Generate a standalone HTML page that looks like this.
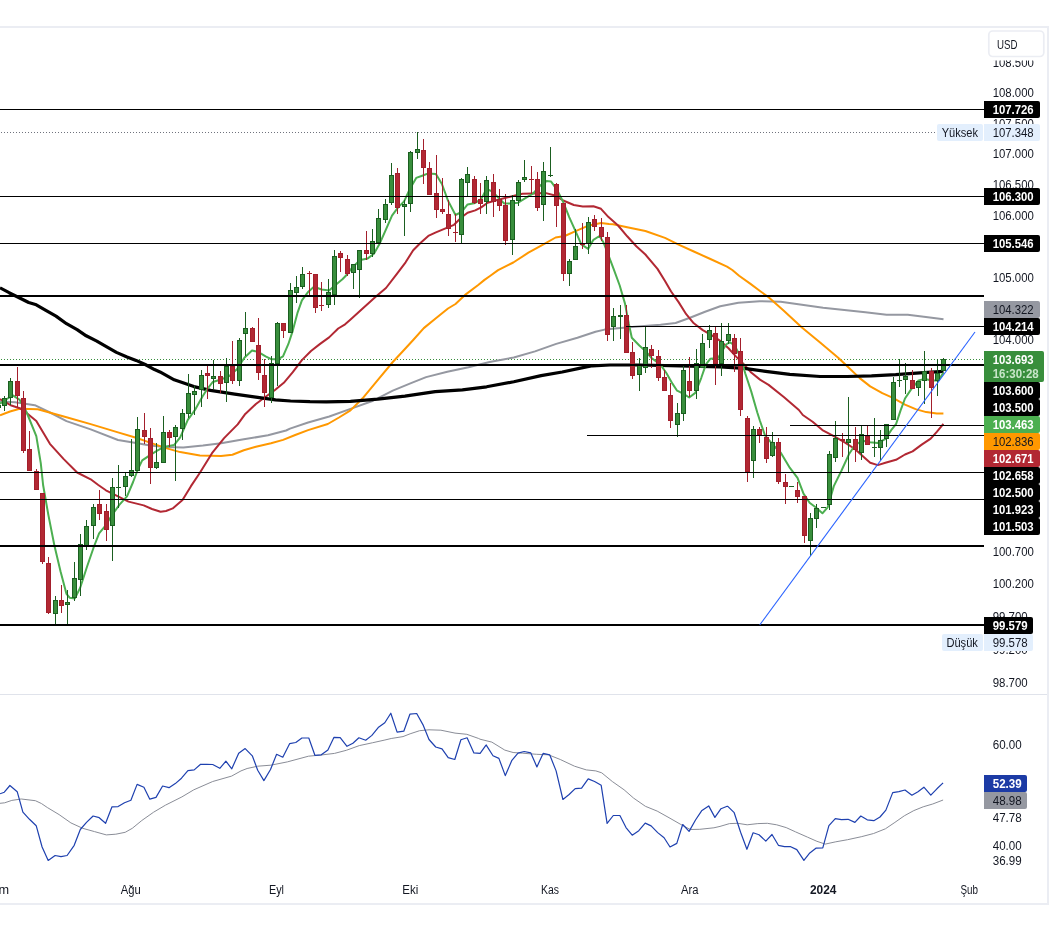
<!DOCTYPE html>
<html lang="tr"><head><meta charset="utf-8"><title>DXY</title>
<style>html,body{margin:0;padding:0;background:#fff}body{width:1058px;height:939px;overflow:hidden}</style>
</head><body>
<svg width="1058" height="939" viewBox="0 0 1058 939" style="display:block;will-change:transform" font-family='"Liberation Sans", "DejaVu Sans", sans-serif'>
<rect width="1058" height="939" fill="#fff"/>
<defs><clipPath id="cm"><rect x="0" y="28" width="984" height="666"/></clipPath><clipPath id="cr"><rect x="0" y="695" width="984" height="180"/></clipPath></defs>
<g shape-rendering="crispEdges">
<line x1="1" y1="132.5" x2="936" y2="132.5" stroke="#6f727d" stroke-width="1" stroke-dasharray="1 2"/>
<line x1="1" y1="359.5" x2="984" y2="359.5" stroke="#388e3c" stroke-width="1" stroke-dasharray="1 2"/>
</g>
<g clip-path="url(#cm)">
<polyline points="0.0,401.4 15.1,402.2 34.8,405.2 50.0,412.5 66.5,421.1 90.7,429.4 118.0,440.0 136.1,443.0 150.0,445.6 165.1,447.1 183.3,447.6 202.9,445.6 221.1,443.3 243.8,439.3 268.0,435.3 286.1,430.5 290.0,428.6 308.1,422.5 329.3,416.5 350.5,408.9 371.7,401.3 392.8,390.7 411.0,383.2 426.1,377.1 447.3,371.7 468.5,367.2 489.6,362.0 513.8,357.5 535.0,351.4 556.2,343.9 577.4,337.8 595.5,331.8 604.6,329.6 615.1,328.6 637.8,326.6 660.5,324.8 675.6,323.0 690.0,317.8 705.1,311.7 720.2,306.3 738.4,302.7 759.6,301.2 780.7,301.8 801.9,304.8 823.1,307.8 844.3,309.9 865.4,312.3 886.6,314.8 907.8,314.8 925.9,316.9 943.5,319.3" fill="none" stroke="#9598a1" stroke-width="2" stroke-linejoin="round" stroke-linecap="butt" />
<polyline points="0.0,415.3 10.0,411.5 19.7,408.7 37.8,409.3 66.5,417.3 90.7,424.1 118.0,432.4 136.1,437.7 150.0,442.6 165.1,447.9 180.2,452.1 199.9,455.4 221.1,455.9 232.4,454.7 243.8,450.2 255.9,446.8 271.0,443.3 283.1,439.9 295.2,435.0 308.1,430.1 327.8,424.0 339.0,417.5 350.5,410.4 362.6,398.3 377.7,380.2 392.8,362.0 402.6,351.5 413.2,340.0 423.8,328.1 435.9,318.3 448.0,308.5 455.5,304.0 466.1,294.1 478.2,285.0 484.5,279.9 490.0,276.0 498.1,270.1 513.3,262.5 528.4,252.7 543.5,244.3 555.6,237.5 564.7,236.0 576.8,230.7 588.9,225.4 601.0,222.9 609.0,224.0 613.1,224.2 627.2,227.3 645.4,231.0 665.0,237.9 678.6,244.7 693.8,251.5 710.4,259.0 727.0,266.6 732.3,270.0 739.1,275.7 750.5,283.9 760.0,291.0 768.6,297.2 783.8,310.8 801.9,327.5 820.1,342.6 838.2,357.7 849.1,368.0 859.7,378.1 870.2,386.4 882.3,393.2 892.9,397.8 905.0,404.6 915.6,409.1 926.2,412.1 936.8,413.6 943.4,413.6" fill="none" stroke="#ff9800" stroke-width="2" stroke-linejoin="round" stroke-linecap="butt" />
<polyline points="0.0,399.1 10.6,405.2 19.7,408.2 26.0,412.5 36.3,421.1 49.9,443.8 63.5,458.9 77.1,472.5 90.7,479.3 98.3,485.0 105.9,490.3 118.0,496.3 128.5,501.6 143.7,505.4 152.0,509.0 160.6,511.8 166.0,511.0 172.7,508.4 182.5,500.1 190.8,486.4 199.9,472.8 212.0,453.2 224.1,438.1 237.7,424.4 245.3,413.9 255.9,404.0 264.9,397.2 274.7,390.3 283.8,382.8 292.8,372.2 301.9,360.1 311.0,351.0 320.1,343.9 329.1,337.4 338.2,328.5 345.1,324.3 350.0,320.0 360.2,310.7 375.4,297.1 386.0,288.0 396.5,274.4 405.6,262.3 413.2,250.2 420.7,242.7 428.3,235.9 435.9,232.4 444.9,228.6 454.0,224.8 461.6,217.3 467.6,212.7 475.2,210.4 481.2,207.4 487.6,202.8 498.1,199.7 510.2,196.7 522.3,193.7 532.9,193.4 545.0,192.9 554.1,195.2 563.2,200.5 573.8,205.0 582.8,206.5 593.4,206.2 601.0,208.8 608.5,217.1 618.1,225.5 627.2,236.3 636.3,246.2 645.4,254.5 657.5,268.9 665.0,281.0 671.1,291.5 678.6,302.1 686.2,314.2 693.8,323.3 702.8,330.1 711.9,335.4 721.0,341.4 728.5,348.3 736.1,356.6 743.7,364.1 751.2,372.5 760.0,379.6 768.6,384.9 783.8,397.0 798.9,410.0 802.8,415.0 812.6,421.8 822.4,430.1 833.8,436.2 844.3,442.2 854.9,449.0 864.0,457.3 870.2,462.8 877.8,465.1 885.4,462.8 896.0,459.8 905.0,454.5 912.6,451.4 921.7,444.6 930.7,438.6 936.8,431.8 943.4,423.9" fill="none" stroke="#b22833" stroke-width="2" stroke-linejoin="round" stroke-linecap="butt" />
<polyline points="0.0,287.8 9.1,292.7 19.7,298.0 28.7,302.5 36.3,304.8 45.4,310.1 56.0,316.1 66.5,323.7 77.1,329.7 86.2,335.8 96.8,341.1 105.9,346.4 116.4,352.4 127.0,357.0 136.1,360.4 145.2,364.5 154.5,369.6 160.0,371.9 174.2,379.8 193.9,386.6 210.5,390.4 234.7,394.2 255.9,397.2 275.5,399.8 290.6,401.0 310.0,401.7 326.3,401.9 350.5,401.3 377.7,399.2 404.9,396.2 435.2,391.7 462.4,389.8 486.6,386.8 513.8,381.7 541.1,375.6 562.2,372.0 580.4,368.1 592.5,365.8 610.0,365.0 640.0,365.0 690.0,366.2 720.2,366.8 744.4,368.3 765.6,371.3 789.8,374.4 820.1,376.5 847.3,376.5 871.5,375.9 895.7,374.7 919.9,372.8 943.5,371.3" fill="none" stroke="#000" stroke-width="3.2" stroke-linejoin="round" stroke-linecap="butt" />
<polyline points="0.0,403.7 6.0,399.5 12.9,395.4 19.7,399.9 26.5,412.0 36.3,436.2 40.8,463.4 43.1,485.0 48.4,515.2 54.4,545.5 60.5,571.2 66.5,593.9 69.6,597.7 74.9,598.4 80.2,587.8 87.0,566.7 93.8,547.0 99.1,533.4 105.9,525.1 111.9,515.2 119.5,504.7 127.0,496.3 133.1,482.0 138.0,469.0 142.2,460.4 151.2,454.3 156.8,450.9 163.6,447.1 174.2,444.9 180.2,437.3 187.8,419.9 195.4,409.3 202.5,396.5 207.4,388.8 212.7,382.0 220.2,379.8 229.3,376.0 236.9,369.2 244.4,357.8 252.0,350.6 258.1,351.8 265.6,356.3 271.7,359.3 277.7,359.3 283.0,356.3 288.3,344.2 292.8,330.6 297.4,313.2 301.9,300.4 308.0,292.1 314.0,286.8 321.6,289.5 329.1,290.5 335.2,285.2 342.7,279.0 347.0,274.5 352.7,266.9 360.2,260.1 367.8,258.4 373.9,253.8 379.9,243.2 386.0,229.3 392.0,215.7 398.1,207.4 404.1,201.4 410.1,188.5 416.2,177.9 422.2,175.7 428.3,173.4 435.9,174.1 441.9,184.0 448.0,200.6 455.5,215.0 461.6,212.0 467.6,204.4 475.2,202.9 481.2,199.1 486.5,189.0 492.1,191.4 499.7,199.0 504.2,203.5 510.2,203.5 517.8,202.8 525.4,198.2 532.9,193.7 540.5,185.4 546.5,181.1 551.1,181.6 557.1,189.9 563.2,202.0 569.2,217.1 575.3,230.7 581.3,244.3 588.1,248.9 593.4,239.8 599.5,236.0 603.5,242.5 607.6,253.0 613.6,268.9 619.7,285.5 625.0,303.6 628.7,323.3 631.8,337.7 639.3,345.5 645.4,351.0 651.5,358.0 660.5,364.6 666.5,373.3 672.6,383.9 677.1,390.7 683.2,393.7 689.2,397.5 695.3,392.9 701.3,377.8 705.9,364.4 710.4,358.7 718.0,358.1 722.5,350.5 726.0,344.5 730.0,342.2 734.6,345.5 740.6,357.0 745.2,373.3 751.2,391.4 757.3,412.5 760.0,421.0 765.0,435.4 773.3,445.2 780.8,452.8 789.9,467.9 797.5,477.8 803.5,493.6 809.6,502.7 815.6,507.3 822.4,513.3 827.7,507.3 833.8,486.1 841.3,471.0 848.9,454.3 854.9,445.2 862.5,440.7 870.1,442.2 877.6,443.0 885.2,439.2 891.2,430.1 896.0,424.2 900.5,410.6 905.0,398.5 911.1,389.4 918.6,380.4 924.7,378.9 932.2,380.4 938.3,380.4 943.4,372.8" fill="none" stroke="#4caf50" stroke-width="2" stroke-linejoin="round" stroke-linecap="butt" />
</g>
<g shape-rendering="crispEdges" clip-path="url(#cm)">
<rect x="-2" y="403" width="1" height="7" fill="#1b5e20"/>
<rect x="-4" y="405" width="5" height="3" fill="#1b5e20"/>
<rect x="-3" y="406" width="3" height="1" fill="#388e3c"/>
<rect x="4" y="396" width="1" height="15" fill="#1b5e20"/>
<rect x="2" y="398" width="5" height="8" fill="#1b5e20"/>
<rect x="3" y="399" width="3" height="6" fill="#388e3c"/>
<rect x="10" y="378" width="1" height="27" fill="#1b5e20"/>
<rect x="8" y="381" width="5" height="17" fill="#1b5e20"/>
<rect x="9" y="382" width="3" height="15" fill="#388e3c"/>
<rect x="17" y="367" width="1" height="40" fill="#a31f2c"/>
<rect x="15" y="381" width="5" height="15" fill="#a31f2c"/>
<rect x="16" y="382" width="3" height="13" fill="#b22833"/>
<rect x="23" y="391" width="1" height="62" fill="#a31f2c"/>
<rect x="21" y="398" width="5" height="53" fill="#a31f2c"/>
<rect x="22" y="399" width="3" height="51" fill="#b22833"/>
<rect x="29" y="431" width="1" height="40" fill="#a31f2c"/>
<rect x="27" y="449" width="5" height="22" fill="#a31f2c"/>
<rect x="28" y="450" width="3" height="20" fill="#b22833"/>
<rect x="36" y="469" width="1" height="21" fill="#a31f2c"/>
<rect x="34" y="471" width="5" height="19" fill="#a31f2c"/>
<rect x="35" y="472" width="3" height="17" fill="#b22833"/>
<rect x="42" y="493" width="1" height="71" fill="#a31f2c"/>
<rect x="40" y="493" width="5" height="69" fill="#a31f2c"/>
<rect x="41" y="494" width="3" height="67" fill="#b22833"/>
<rect x="48" y="557" width="1" height="57" fill="#a31f2c"/>
<rect x="46" y="563" width="5" height="50" fill="#a31f2c"/>
<rect x="47" y="564" width="3" height="48" fill="#b22833"/>
<rect x="55" y="596" width="1" height="28" fill="#1b5e20"/>
<rect x="53" y="600" width="5" height="14" fill="#1b5e20"/>
<rect x="54" y="601" width="3" height="12" fill="#388e3c"/>
<rect x="61" y="585" width="1" height="28" fill="#a31f2c"/>
<rect x="59" y="600" width="5" height="6" fill="#a31f2c"/>
<rect x="60" y="601" width="3" height="4" fill="#b22833"/>
<rect x="67" y="590" width="1" height="34" fill="#1b5e20"/>
<rect x="65" y="602" width="5" height="3" fill="#1b5e20"/>
<rect x="66" y="603" width="3" height="1" fill="#388e3c"/>
<rect x="74" y="562" width="1" height="39" fill="#1b5e20"/>
<rect x="72" y="578" width="5" height="20" fill="#1b5e20"/>
<rect x="73" y="579" width="3" height="18" fill="#388e3c"/>
<rect x="80" y="534" width="1" height="62" fill="#1b5e20"/>
<rect x="78" y="544" width="5" height="36" fill="#1b5e20"/>
<rect x="79" y="545" width="3" height="34" fill="#388e3c"/>
<rect x="86" y="520" width="1" height="30" fill="#1b5e20"/>
<rect x="84" y="526" width="5" height="20" fill="#1b5e20"/>
<rect x="85" y="527" width="3" height="18" fill="#388e3c"/>
<rect x="93" y="504" width="1" height="35" fill="#1b5e20"/>
<rect x="91" y="507" width="5" height="19" fill="#1b5e20"/>
<rect x="92" y="508" width="3" height="17" fill="#388e3c"/>
<rect x="99" y="490" width="1" height="30" fill="#a31f2c"/>
<rect x="97" y="504" width="5" height="10" fill="#a31f2c"/>
<rect x="98" y="505" width="3" height="8" fill="#b22833"/>
<rect x="106" y="504" width="1" height="37" fill="#a31f2c"/>
<rect x="104" y="511" width="5" height="19" fill="#a31f2c"/>
<rect x="105" y="512" width="3" height="17" fill="#b22833"/>
<rect x="112" y="478" width="1" height="83" fill="#1b5e20"/>
<rect x="110" y="487" width="5" height="39" fill="#1b5e20"/>
<rect x="111" y="488" width="3" height="37" fill="#388e3c"/>
<rect x="118" y="465" width="1" height="43" fill="#1b5e20"/>
<rect x="116" y="487" width="5" height="1" fill="#1b5e20"/>
<rect x="125" y="473" width="1" height="23" fill="#1b5e20"/>
<rect x="123" y="476" width="5" height="11" fill="#1b5e20"/>
<rect x="124" y="477" width="3" height="9" fill="#388e3c"/>
<rect x="131" y="439" width="1" height="38" fill="#1b5e20"/>
<rect x="129" y="470" width="5" height="6" fill="#1b5e20"/>
<rect x="130" y="471" width="3" height="4" fill="#388e3c"/>
<rect x="137" y="417" width="1" height="54" fill="#1b5e20"/>
<rect x="135" y="429" width="5" height="42" fill="#1b5e20"/>
<rect x="136" y="430" width="3" height="40" fill="#388e3c"/>
<rect x="144" y="413" width="1" height="31" fill="#a31f2c"/>
<rect x="142" y="430" width="5" height="7" fill="#a31f2c"/>
<rect x="143" y="431" width="3" height="5" fill="#b22833"/>
<rect x="150" y="428" width="1" height="56" fill="#a31f2c"/>
<rect x="148" y="438" width="5" height="30" fill="#a31f2c"/>
<rect x="149" y="439" width="3" height="28" fill="#b22833"/>
<rect x="156" y="443" width="1" height="26" fill="#1b5e20"/>
<rect x="154" y="462" width="5" height="6" fill="#1b5e20"/>
<rect x="155" y="463" width="3" height="4" fill="#388e3c"/>
<rect x="163" y="416" width="1" height="47" fill="#1b5e20"/>
<rect x="161" y="432" width="5" height="31" fill="#1b5e20"/>
<rect x="162" y="433" width="3" height="29" fill="#388e3c"/>
<rect x="169" y="430" width="1" height="17" fill="#a31f2c"/>
<rect x="167" y="432" width="5" height="6" fill="#a31f2c"/>
<rect x="168" y="433" width="3" height="4" fill="#b22833"/>
<rect x="175" y="425" width="1" height="56" fill="#1b5e20"/>
<rect x="173" y="427" width="5" height="10" fill="#1b5e20"/>
<rect x="174" y="428" width="3" height="8" fill="#388e3c"/>
<rect x="182" y="409" width="1" height="31" fill="#1b5e20"/>
<rect x="180" y="413" width="5" height="16" fill="#1b5e20"/>
<rect x="181" y="414" width="3" height="14" fill="#388e3c"/>
<rect x="188" y="374" width="1" height="44" fill="#1b5e20"/>
<rect x="186" y="393" width="5" height="21" fill="#1b5e20"/>
<rect x="187" y="394" width="3" height="19" fill="#388e3c"/>
<rect x="194" y="386" width="1" height="29" fill="#1b5e20"/>
<rect x="192" y="391" width="5" height="4" fill="#1b5e20"/>
<rect x="193" y="392" width="3" height="2" fill="#388e3c"/>
<rect x="201" y="370" width="1" height="37" fill="#1b5e20"/>
<rect x="199" y="375" width="5" height="15" fill="#1b5e20"/>
<rect x="200" y="376" width="3" height="13" fill="#388e3c"/>
<rect x="207" y="366" width="1" height="33" fill="#a31f2c"/>
<rect x="205" y="373" width="5" height="3" fill="#a31f2c"/>
<rect x="206" y="374" width="3" height="1" fill="#b22833"/>
<rect x="213" y="360" width="1" height="29" fill="#1b5e20"/>
<rect x="211" y="376" width="5" height="3" fill="#1b5e20"/>
<rect x="212" y="377" width="3" height="1" fill="#388e3c"/>
<rect x="220" y="371" width="1" height="22" fill="#a31f2c"/>
<rect x="218" y="376" width="5" height="8" fill="#a31f2c"/>
<rect x="219" y="377" width="3" height="6" fill="#b22833"/>
<rect x="226" y="358" width="1" height="44" fill="#1b5e20"/>
<rect x="224" y="366" width="5" height="17" fill="#1b5e20"/>
<rect x="225" y="367" width="3" height="15" fill="#388e3c"/>
<rect x="232" y="341" width="1" height="43" fill="#a31f2c"/>
<rect x="230" y="366" width="5" height="15" fill="#a31f2c"/>
<rect x="231" y="367" width="3" height="13" fill="#b22833"/>
<rect x="239" y="338" width="1" height="48" fill="#1b5e20"/>
<rect x="237" y="340" width="5" height="41" fill="#1b5e20"/>
<rect x="238" y="341" width="3" height="39" fill="#388e3c"/>
<rect x="245" y="312" width="1" height="44" fill="#1b5e20"/>
<rect x="243" y="328" width="5" height="6" fill="#1b5e20"/>
<rect x="244" y="329" width="3" height="4" fill="#388e3c"/>
<rect x="252" y="327" width="1" height="15" fill="#a31f2c"/>
<rect x="250" y="328" width="5" height="14" fill="#a31f2c"/>
<rect x="251" y="329" width="3" height="12" fill="#b22833"/>
<rect x="258" y="318" width="1" height="62" fill="#a31f2c"/>
<rect x="256" y="345" width="5" height="28" fill="#a31f2c"/>
<rect x="257" y="346" width="3" height="26" fill="#b22833"/>
<rect x="264" y="359" width="1" height="48" fill="#a31f2c"/>
<rect x="262" y="375" width="5" height="18" fill="#a31f2c"/>
<rect x="263" y="376" width="3" height="16" fill="#b22833"/>
<rect x="271" y="356" width="1" height="47" fill="#1b5e20"/>
<rect x="269" y="363" width="5" height="35" fill="#1b5e20"/>
<rect x="270" y="364" width="3" height="33" fill="#388e3c"/>
<rect x="277" y="322" width="1" height="64" fill="#1b5e20"/>
<rect x="275" y="323" width="5" height="41" fill="#1b5e20"/>
<rect x="276" y="324" width="3" height="39" fill="#388e3c"/>
<rect x="283" y="323" width="1" height="15" fill="#a31f2c"/>
<rect x="281" y="323" width="5" height="8" fill="#a31f2c"/>
<rect x="282" y="324" width="3" height="6" fill="#b22833"/>
<rect x="290" y="283" width="1" height="50" fill="#1b5e20"/>
<rect x="288" y="290" width="5" height="43" fill="#1b5e20"/>
<rect x="289" y="291" width="3" height="41" fill="#388e3c"/>
<rect x="296" y="276" width="1" height="27" fill="#1b5e20"/>
<rect x="294" y="287" width="5" height="6" fill="#1b5e20"/>
<rect x="295" y="288" width="3" height="4" fill="#388e3c"/>
<rect x="302" y="267" width="1" height="22" fill="#1b5e20"/>
<rect x="300" y="274" width="5" height="13" fill="#1b5e20"/>
<rect x="301" y="275" width="3" height="11" fill="#388e3c"/>
<rect x="309" y="271" width="1" height="26" fill="#a31f2c"/>
<rect x="307" y="273" width="5" height="1" fill="#a31f2c"/>
<rect x="315" y="274" width="1" height="39" fill="#a31f2c"/>
<rect x="313" y="274" width="5" height="34" fill="#a31f2c"/>
<rect x="314" y="275" width="3" height="32" fill="#b22833"/>
<rect x="321" y="282" width="1" height="29" fill="#a31f2c"/>
<rect x="319" y="305" width="5" height="1" fill="#a31f2c"/>
<rect x="328" y="279" width="1" height="29" fill="#1b5e20"/>
<rect x="326" y="292" width="5" height="13" fill="#1b5e20"/>
<rect x="327" y="293" width="3" height="11" fill="#388e3c"/>
<rect x="334" y="250" width="1" height="55" fill="#1b5e20"/>
<rect x="332" y="256" width="5" height="39" fill="#1b5e20"/>
<rect x="333" y="257" width="3" height="37" fill="#388e3c"/>
<rect x="340" y="251" width="1" height="21" fill="#a31f2c"/>
<rect x="338" y="253" width="5" height="5" fill="#a31f2c"/>
<rect x="339" y="254" width="3" height="3" fill="#b22833"/>
<rect x="347" y="255" width="1" height="21" fill="#a31f2c"/>
<rect x="345" y="259" width="5" height="15" fill="#a31f2c"/>
<rect x="346" y="260" width="3" height="13" fill="#b22833"/>
<rect x="353" y="264" width="1" height="25" fill="#1b5e20"/>
<rect x="351" y="264" width="5" height="9" fill="#1b5e20"/>
<rect x="352" y="265" width="3" height="7" fill="#388e3c"/>
<rect x="359" y="250" width="1" height="48" fill="#1b5e20"/>
<rect x="357" y="250" width="5" height="20" fill="#1b5e20"/>
<rect x="358" y="251" width="3" height="18" fill="#388e3c"/>
<rect x="366" y="231" width="1" height="29" fill="#a31f2c"/>
<rect x="364" y="250" width="5" height="4" fill="#a31f2c"/>
<rect x="365" y="251" width="3" height="2" fill="#b22833"/>
<rect x="372" y="229" width="1" height="28" fill="#1b5e20"/>
<rect x="370" y="241" width="5" height="13" fill="#1b5e20"/>
<rect x="371" y="242" width="3" height="11" fill="#388e3c"/>
<rect x="378" y="209" width="1" height="34" fill="#1b5e20"/>
<rect x="376" y="218" width="5" height="25" fill="#1b5e20"/>
<rect x="377" y="219" width="3" height="23" fill="#388e3c"/>
<rect x="385" y="199" width="1" height="24" fill="#1b5e20"/>
<rect x="383" y="204" width="5" height="16" fill="#1b5e20"/>
<rect x="384" y="205" width="3" height="14" fill="#388e3c"/>
<rect x="391" y="163" width="1" height="42" fill="#1b5e20"/>
<rect x="389" y="175" width="5" height="28" fill="#1b5e20"/>
<rect x="390" y="176" width="3" height="26" fill="#388e3c"/>
<rect x="397" y="168" width="1" height="46" fill="#a31f2c"/>
<rect x="395" y="173" width="5" height="35" fill="#a31f2c"/>
<rect x="396" y="174" width="3" height="33" fill="#b22833"/>
<rect x="404" y="200" width="1" height="36" fill="#1b5e20"/>
<rect x="402" y="204" width="5" height="3" fill="#1b5e20"/>
<rect x="403" y="205" width="3" height="1" fill="#388e3c"/>
<rect x="410" y="151" width="1" height="61" fill="#1b5e20"/>
<rect x="408" y="152" width="5" height="52" fill="#1b5e20"/>
<rect x="409" y="153" width="3" height="50" fill="#388e3c"/>
<rect x="417" y="132" width="1" height="27" fill="#1b5e20"/>
<rect x="415" y="149" width="5" height="4" fill="#1b5e20"/>
<rect x="416" y="150" width="3" height="2" fill="#388e3c"/>
<rect x="423" y="139" width="1" height="45" fill="#a31f2c"/>
<rect x="421" y="150" width="5" height="18" fill="#a31f2c"/>
<rect x="422" y="151" width="3" height="16" fill="#b22833"/>
<rect x="429" y="162" width="1" height="33" fill="#a31f2c"/>
<rect x="427" y="168" width="5" height="27" fill="#a31f2c"/>
<rect x="428" y="169" width="3" height="25" fill="#b22833"/>
<rect x="436" y="155" width="1" height="63" fill="#a31f2c"/>
<rect x="434" y="193" width="5" height="17" fill="#a31f2c"/>
<rect x="435" y="194" width="3" height="15" fill="#b22833"/>
<rect x="442" y="178" width="1" height="36" fill="#a31f2c"/>
<rect x="440" y="209" width="5" height="3" fill="#a31f2c"/>
<rect x="441" y="210" width="3" height="1" fill="#b22833"/>
<rect x="448" y="200" width="1" height="36" fill="#a31f2c"/>
<rect x="446" y="214" width="5" height="15" fill="#a31f2c"/>
<rect x="447" y="215" width="3" height="13" fill="#b22833"/>
<rect x="455" y="214" width="1" height="28" fill="#a31f2c"/>
<rect x="453" y="232" width="5" height="1" fill="#a31f2c"/>
<rect x="461" y="178" width="1" height="65" fill="#1b5e20"/>
<rect x="459" y="179" width="5" height="56" fill="#1b5e20"/>
<rect x="460" y="180" width="3" height="54" fill="#388e3c"/>
<rect x="467" y="167" width="1" height="29" fill="#1b5e20"/>
<rect x="465" y="174" width="5" height="9" fill="#1b5e20"/>
<rect x="466" y="175" width="3" height="7" fill="#388e3c"/>
<rect x="474" y="176" width="1" height="28" fill="#a31f2c"/>
<rect x="472" y="179" width="5" height="24" fill="#a31f2c"/>
<rect x="473" y="180" width="3" height="22" fill="#b22833"/>
<rect x="480" y="183" width="1" height="31" fill="#a31f2c"/>
<rect x="478" y="199" width="5" height="5" fill="#a31f2c"/>
<rect x="479" y="200" width="3" height="3" fill="#b22833"/>
<rect x="486" y="176" width="1" height="38" fill="#1b5e20"/>
<rect x="484" y="180" width="5" height="22" fill="#1b5e20"/>
<rect x="485" y="181" width="3" height="20" fill="#388e3c"/>
<rect x="493" y="174" width="1" height="43" fill="#a31f2c"/>
<rect x="491" y="182" width="5" height="20" fill="#a31f2c"/>
<rect x="492" y="183" width="3" height="18" fill="#b22833"/>
<rect x="499" y="189" width="1" height="22" fill="#a31f2c"/>
<rect x="497" y="199" width="5" height="7" fill="#a31f2c"/>
<rect x="498" y="200" width="3" height="5" fill="#b22833"/>
<rect x="505" y="194" width="1" height="51" fill="#a31f2c"/>
<rect x="503" y="205" width="5" height="36" fill="#a31f2c"/>
<rect x="504" y="206" width="3" height="34" fill="#b22833"/>
<rect x="512" y="195" width="1" height="60" fill="#1b5e20"/>
<rect x="510" y="200" width="5" height="40" fill="#1b5e20"/>
<rect x="511" y="201" width="3" height="38" fill="#388e3c"/>
<rect x="518" y="180" width="1" height="26" fill="#1b5e20"/>
<rect x="516" y="182" width="5" height="19" fill="#1b5e20"/>
<rect x="517" y="183" width="3" height="17" fill="#388e3c"/>
<rect x="524" y="160" width="1" height="22" fill="#1b5e20"/>
<rect x="522" y="177" width="5" height="3" fill="#1b5e20"/>
<rect x="523" y="178" width="3" height="1" fill="#388e3c"/>
<rect x="531" y="166" width="1" height="28" fill="#a31f2c"/>
<rect x="529" y="179" width="5" height="1" fill="#a31f2c"/>
<rect x="537" y="172" width="1" height="39" fill="#a31f2c"/>
<rect x="535" y="179" width="5" height="29" fill="#a31f2c"/>
<rect x="536" y="180" width="3" height="27" fill="#b22833"/>
<rect x="543" y="162" width="1" height="59" fill="#1b5e20"/>
<rect x="541" y="171" width="5" height="34" fill="#1b5e20"/>
<rect x="542" y="172" width="3" height="32" fill="#388e3c"/>
<rect x="550" y="147" width="1" height="30" fill="#1b5e20"/>
<rect x="548" y="175" width="5" height="1" fill="#1b5e20"/>
<rect x="556" y="183" width="1" height="44" fill="#a31f2c"/>
<rect x="554" y="184" width="5" height="22" fill="#a31f2c"/>
<rect x="555" y="185" width="3" height="20" fill="#b22833"/>
<rect x="563" y="203" width="1" height="78" fill="#a31f2c"/>
<rect x="561" y="203" width="5" height="71" fill="#a31f2c"/>
<rect x="562" y="204" width="3" height="69" fill="#b22833"/>
<rect x="569" y="259" width="1" height="27" fill="#1b5e20"/>
<rect x="567" y="261" width="5" height="13" fill="#1b5e20"/>
<rect x="568" y="262" width="3" height="11" fill="#388e3c"/>
<rect x="575" y="229" width="1" height="31" fill="#1b5e20"/>
<rect x="573" y="246" width="5" height="14" fill="#1b5e20"/>
<rect x="574" y="247" width="3" height="12" fill="#388e3c"/>
<rect x="582" y="223" width="1" height="26" fill="#a31f2c"/>
<rect x="580" y="244" width="5" height="1" fill="#a31f2c"/>
<rect x="588" y="217" width="1" height="37" fill="#1b5e20"/>
<rect x="586" y="222" width="5" height="22" fill="#1b5e20"/>
<rect x="587" y="223" width="3" height="20" fill="#388e3c"/>
<rect x="594" y="215" width="1" height="16" fill="#a31f2c"/>
<rect x="592" y="219" width="5" height="8" fill="#a31f2c"/>
<rect x="593" y="220" width="3" height="6" fill="#b22833"/>
<rect x="601" y="218" width="1" height="23" fill="#a31f2c"/>
<rect x="599" y="227" width="5" height="10" fill="#a31f2c"/>
<rect x="600" y="228" width="3" height="8" fill="#b22833"/>
<rect x="607" y="232" width="1" height="109" fill="#a31f2c"/>
<rect x="605" y="237" width="5" height="98" fill="#a31f2c"/>
<rect x="606" y="238" width="3" height="96" fill="#b22833"/>
<rect x="613" y="308" width="1" height="33" fill="#1b5e20"/>
<rect x="611" y="316" width="5" height="11" fill="#1b5e20"/>
<rect x="612" y="317" width="3" height="9" fill="#388e3c"/>
<rect x="620" y="305" width="1" height="34" fill="#1b5e20"/>
<rect x="618" y="315" width="5" height="2" fill="#1b5e20"/>
<rect x="626" y="305" width="1" height="48" fill="#a31f2c"/>
<rect x="624" y="315" width="5" height="38" fill="#a31f2c"/>
<rect x="625" y="316" width="3" height="36" fill="#b22833"/>
<rect x="632" y="342" width="1" height="37" fill="#a31f2c"/>
<rect x="630" y="352" width="5" height="24" fill="#a31f2c"/>
<rect x="631" y="353" width="3" height="22" fill="#b22833"/>
<rect x="639" y="358" width="1" height="33" fill="#1b5e20"/>
<rect x="637" y="365" width="5" height="10" fill="#1b5e20"/>
<rect x="638" y="366" width="3" height="8" fill="#388e3c"/>
<rect x="645" y="327" width="1" height="46" fill="#1b5e20"/>
<rect x="643" y="347" width="5" height="21" fill="#1b5e20"/>
<rect x="644" y="348" width="3" height="19" fill="#388e3c"/>
<rect x="651" y="345" width="1" height="23" fill="#a31f2c"/>
<rect x="649" y="349" width="5" height="7" fill="#a31f2c"/>
<rect x="650" y="350" width="3" height="5" fill="#b22833"/>
<rect x="658" y="350" width="1" height="31" fill="#a31f2c"/>
<rect x="656" y="356" width="5" height="22" fill="#a31f2c"/>
<rect x="657" y="357" width="3" height="20" fill="#b22833"/>
<rect x="664" y="370" width="1" height="21" fill="#a31f2c"/>
<rect x="662" y="377" width="5" height="14" fill="#a31f2c"/>
<rect x="663" y="378" width="3" height="12" fill="#b22833"/>
<rect x="670" y="383" width="1" height="45" fill="#a31f2c"/>
<rect x="668" y="395" width="5" height="26" fill="#a31f2c"/>
<rect x="669" y="396" width="3" height="24" fill="#b22833"/>
<rect x="677" y="403" width="1" height="34" fill="#1b5e20"/>
<rect x="675" y="413" width="5" height="12" fill="#1b5e20"/>
<rect x="676" y="414" width="3" height="10" fill="#388e3c"/>
<rect x="683" y="366" width="1" height="55" fill="#1b5e20"/>
<rect x="681" y="370" width="5" height="44" fill="#1b5e20"/>
<rect x="682" y="371" width="3" height="42" fill="#388e3c"/>
<rect x="689" y="357" width="1" height="40" fill="#a31f2c"/>
<rect x="687" y="381" width="5" height="10" fill="#a31f2c"/>
<rect x="688" y="382" width="3" height="8" fill="#b22833"/>
<rect x="696" y="349" width="1" height="50" fill="#1b5e20"/>
<rect x="694" y="363" width="5" height="28" fill="#1b5e20"/>
<rect x="695" y="364" width="3" height="26" fill="#388e3c"/>
<rect x="702" y="334" width="1" height="34" fill="#1b5e20"/>
<rect x="700" y="343" width="5" height="25" fill="#1b5e20"/>
<rect x="701" y="344" width="3" height="23" fill="#388e3c"/>
<rect x="709" y="325" width="1" height="23" fill="#1b5e20"/>
<rect x="707" y="330" width="5" height="10" fill="#1b5e20"/>
<rect x="708" y="331" width="3" height="8" fill="#388e3c"/>
<rect x="715" y="327" width="1" height="58" fill="#a31f2c"/>
<rect x="713" y="333" width="5" height="31" fill="#a31f2c"/>
<rect x="714" y="334" width="3" height="29" fill="#b22833"/>
<rect x="721" y="323" width="1" height="53" fill="#1b5e20"/>
<rect x="719" y="341" width="5" height="23" fill="#1b5e20"/>
<rect x="720" y="342" width="3" height="21" fill="#388e3c"/>
<rect x="728" y="323" width="1" height="21" fill="#1b5e20"/>
<rect x="726" y="334" width="5" height="7" fill="#1b5e20"/>
<rect x="727" y="335" width="3" height="5" fill="#388e3c"/>
<rect x="734" y="334" width="1" height="38" fill="#a31f2c"/>
<rect x="732" y="338" width="5" height="16" fill="#a31f2c"/>
<rect x="733" y="339" width="3" height="14" fill="#b22833"/>
<rect x="740" y="338" width="1" height="78" fill="#a31f2c"/>
<rect x="738" y="351" width="5" height="59" fill="#a31f2c"/>
<rect x="739" y="352" width="3" height="57" fill="#b22833"/>
<rect x="747" y="416" width="1" height="66" fill="#a31f2c"/>
<rect x="745" y="418" width="5" height="54" fill="#a31f2c"/>
<rect x="746" y="419" width="3" height="52" fill="#b22833"/>
<rect x="753" y="426" width="1" height="52" fill="#1b5e20"/>
<rect x="751" y="429" width="5" height="32" fill="#1b5e20"/>
<rect x="752" y="430" width="3" height="30" fill="#388e3c"/>
<rect x="759" y="427" width="1" height="16" fill="#a31f2c"/>
<rect x="757" y="429" width="5" height="6" fill="#a31f2c"/>
<rect x="758" y="430" width="3" height="4" fill="#b22833"/>
<rect x="766" y="427" width="1" height="36" fill="#a31f2c"/>
<rect x="764" y="437" width="5" height="22" fill="#a31f2c"/>
<rect x="765" y="438" width="3" height="20" fill="#b22833"/>
<rect x="772" y="432" width="1" height="25" fill="#1b5e20"/>
<rect x="770" y="442" width="5" height="14" fill="#1b5e20"/>
<rect x="771" y="443" width="3" height="12" fill="#388e3c"/>
<rect x="778" y="438" width="1" height="46" fill="#a31f2c"/>
<rect x="776" y="442" width="5" height="40" fill="#a31f2c"/>
<rect x="777" y="443" width="3" height="38" fill="#b22833"/>
<rect x="785" y="474" width="1" height="30" fill="#a31f2c"/>
<rect x="783" y="482" width="5" height="5" fill="#a31f2c"/>
<rect x="784" y="483" width="3" height="3" fill="#b22833"/>
<rect x="791" y="486" width="1" height="1" fill="#1b5e20"/>
<rect x="789" y="486" width="5" height="1" fill="#1b5e20"/>
<rect x="797" y="482" width="1" height="21" fill="#a31f2c"/>
<rect x="795" y="490" width="5" height="7" fill="#a31f2c"/>
<rect x="796" y="491" width="3" height="5" fill="#b22833"/>
<rect x="804" y="496" width="1" height="47" fill="#a31f2c"/>
<rect x="802" y="496" width="5" height="40" fill="#a31f2c"/>
<rect x="803" y="497" width="3" height="38" fill="#b22833"/>
<rect x="810" y="513" width="1" height="43" fill="#1b5e20"/>
<rect x="808" y="518" width="5" height="23" fill="#1b5e20"/>
<rect x="809" y="519" width="3" height="21" fill="#388e3c"/>
<rect x="816" y="504" width="1" height="24" fill="#1b5e20"/>
<rect x="814" y="508" width="5" height="11" fill="#1b5e20"/>
<rect x="815" y="509" width="3" height="9" fill="#388e3c"/>
<rect x="823" y="507" width="1" height="1" fill="#1b5e20"/>
<rect x="821" y="507" width="5" height="1" fill="#1b5e20"/>
<rect x="829" y="451" width="1" height="59" fill="#1b5e20"/>
<rect x="827" y="454" width="5" height="51" fill="#1b5e20"/>
<rect x="828" y="455" width="3" height="49" fill="#388e3c"/>
<rect x="835" y="421" width="1" height="41" fill="#1b5e20"/>
<rect x="833" y="438" width="5" height="20" fill="#1b5e20"/>
<rect x="834" y="439" width="3" height="18" fill="#388e3c"/>
<rect x="842" y="433" width="1" height="24" fill="#a31f2c"/>
<rect x="840" y="439" width="5" height="2" fill="#a31f2c"/>
<rect x="848" y="397" width="1" height="75" fill="#1b5e20"/>
<rect x="846" y="439" width="5" height="4" fill="#1b5e20"/>
<rect x="847" y="440" width="3" height="2" fill="#388e3c"/>
<rect x="855" y="427" width="1" height="35" fill="#a31f2c"/>
<rect x="853" y="439" width="5" height="11" fill="#a31f2c"/>
<rect x="854" y="440" width="3" height="9" fill="#b22833"/>
<rect x="861" y="426" width="1" height="34" fill="#1b5e20"/>
<rect x="859" y="434" width="5" height="19" fill="#1b5e20"/>
<rect x="860" y="435" width="3" height="17" fill="#388e3c"/>
<rect x="867" y="426" width="1" height="19" fill="#a31f2c"/>
<rect x="865" y="436" width="5" height="9" fill="#a31f2c"/>
<rect x="866" y="437" width="3" height="7" fill="#b22833"/>
<rect x="874" y="418" width="1" height="39" fill="#1b5e20"/>
<rect x="872" y="447" width="5" height="1" fill="#1b5e20"/>
<rect x="880" y="430" width="1" height="30" fill="#1b5e20"/>
<rect x="878" y="440" width="5" height="8" fill="#1b5e20"/>
<rect x="879" y="441" width="3" height="6" fill="#388e3c"/>
<rect x="886" y="424" width="1" height="23" fill="#1b5e20"/>
<rect x="884" y="424" width="5" height="15" fill="#1b5e20"/>
<rect x="885" y="425" width="3" height="13" fill="#388e3c"/>
<rect x="893" y="377" width="1" height="43" fill="#1b5e20"/>
<rect x="891" y="382" width="5" height="38" fill="#1b5e20"/>
<rect x="892" y="383" width="3" height="36" fill="#388e3c"/>
<rect x="899" y="359" width="1" height="28" fill="#1b5e20"/>
<rect x="897" y="380" width="5" height="1" fill="#1b5e20"/>
<rect x="905" y="363" width="1" height="31" fill="#1b5e20"/>
<rect x="903" y="376" width="5" height="4" fill="#1b5e20"/>
<rect x="904" y="377" width="3" height="2" fill="#388e3c"/>
<rect x="912" y="370" width="1" height="19" fill="#a31f2c"/>
<rect x="910" y="380" width="5" height="9" fill="#a31f2c"/>
<rect x="911" y="381" width="3" height="7" fill="#b22833"/>
<rect x="918" y="381" width="1" height="15" fill="#1b5e20"/>
<rect x="916" y="381" width="5" height="7" fill="#1b5e20"/>
<rect x="917" y="382" width="3" height="5" fill="#388e3c"/>
<rect x="924" y="351" width="1" height="53" fill="#1b5e20"/>
<rect x="922" y="371" width="5" height="10" fill="#1b5e20"/>
<rect x="923" y="372" width="3" height="8" fill="#388e3c"/>
<rect x="931" y="368" width="1" height="50" fill="#a31f2c"/>
<rect x="929" y="371" width="5" height="17" fill="#a31f2c"/>
<rect x="930" y="372" width="3" height="15" fill="#b22833"/>
<rect x="937" y="359" width="1" height="37" fill="#1b5e20"/>
<rect x="935" y="373" width="5" height="8" fill="#1b5e20"/>
<rect x="936" y="374" width="3" height="6" fill="#388e3c"/>
<rect x="943" y="358" width="1" height="13" fill="#1b5e20"/>
<rect x="941" y="359" width="5" height="12" fill="#1b5e20"/>
<rect x="942" y="360" width="3" height="10" fill="#388e3c"/>
</g>
<g shape-rendering="crispEdges" fill="#000">
<rect x="0" y="109" width="984" height="1"/>
<rect x="0" y="196" width="984" height="1"/>
<rect x="0" y="243" width="984" height="1"/>
<rect x="0" y="295" width="984" height="2"/>
<rect x="626" y="326" width="358" height="1"/>
<rect x="0" y="364" width="984" height="2"/>
<rect x="790" y="425" width="194" height="1"/>
<rect x="587" y="435" width="397" height="1"/>
<rect x="0" y="472" width="984" height="1"/>
<rect x="0" y="499" width="984" height="1"/>
<rect x="0" y="545" width="984" height="2"/>
<rect x="0" y="624" width="984" height="2"/>
</g>
<line x1="759.7" y1="625" x2="975" y2="332" stroke="#2962ff" stroke-width="1.1"/>
<g clip-path="url(#cr)">
<polyline points="0.0,803.3 4.7,802.8 11.8,800.4 21.3,799.0 35.4,800.7 41.4,803.5 47.3,807.5 59.1,814.6 70.9,822.9 82.7,828.3 94.5,831.6 106.3,834.9 115.8,834.2 125.2,832.3 132.3,828.3 141.8,820.5 153.6,812.2 165.4,805.2 181.9,796.9 193.8,789.8 212.7,781.5 231.6,776.1 241.0,770.9 247.1,768.5 257.7,766.2 270.7,765.2 287.3,761.9 308.5,756.2 320.3,755.1 334.5,753.4 346.3,750.3 359.3,745.6 372.3,742.8 384.1,740.2 391.2,738.5 403.0,736.6 410.1,733.8 419.6,730.7 429.0,729.8 440.9,730.2 455.0,733.1 466.8,734.3 478.7,738.5 480.0,739.2 491.8,742.1 504.8,750.1 513.1,752.5 522.5,753.2 536.7,754.3 548.5,754.8 560.3,759.5 574.5,766.2 586.3,769.9 595.8,770.9 601.7,772.8 612.3,781.5 624.1,789.8 633.6,798.1 645.4,806.3 657.2,811.1 669.0,817.7 680.9,824.5 690.3,829.5 699.8,829.3 713.9,827.8 720.0,826.4 729.5,823.6 737.7,823.3 747.2,824.8 757.8,823.6 767.3,823.3 776.7,824.8 786.2,827.6 795.6,831.9 807.4,837.1 816.9,841.3 825.2,844.1 835.8,841.8 847.6,839.7 861.8,836.6 873.6,833.5 885.4,828.8 894.9,822.4 904.3,815.8 913.8,810.6 923.2,806.8 932.7,804.0 943.1,800.0" fill="none" stroke="#8a8d97" stroke-width="1" stroke-linejoin="round" stroke-linecap="butt" />
<polyline points="0.0,793.8 4.3,792.2 9.9,785.5 17.2,791.7 22.9,812.2 29.5,819.3 36.2,825.7 42.1,847.0 48.2,860.4 55.1,855.5 61.0,856.7 67.1,855.5 74.2,845.3 80.3,829.5 86.5,822.4 93.1,816.0 99.2,817.7 105.6,823.3 112.0,806.8 118.1,806.6 124.5,802.8 130.9,800.2 137.1,784.4 143.9,787.2 149.8,799.2 156.0,797.4 162.6,786.0 169.0,787.7 175.3,783.6 181.5,778.2 187.9,770.7 194.2,769.9 200.6,764.3 206.8,764.3 212.7,764.5 219.8,768.3 225.9,761.2 231.8,768.8 238.7,753.2 244.8,748.7 245.2,748.7 252.3,755.8 257.7,770.2 263.9,780.6 270.5,769.5 276.6,754.3 282.8,757.2 289.6,743.7 295.8,742.5 301.9,738.0 308.8,738.0 314.9,755.3 321.3,754.8 327.9,749.9 334.0,737.3 340.2,737.6 347.0,746.3 352.9,743.2 358.9,737.8 365.7,740.2 371.9,735.4 378.2,727.6 384.8,722.7 390.8,713.2 397.1,732.1 403.8,731.2 409.9,714.2 416.7,713.5 422.9,724.6 429.0,739.5 435.7,747.0 442.0,748.9 448.2,757.7 454.8,759.5 460.9,739.7 467.1,737.8 473.9,752.9 480.1,753.4 486.0,745.1 486.1,744.9 493.0,755.8 498.9,758.4 505.3,775.6 511.9,760.3 518.0,753.2 524.2,751.5 530.8,752.9 536.9,766.9 543.1,753.4 549.7,754.8 556.1,770.9 562.9,799.5 569.1,794.5 575.2,788.6 581.6,788.1 588.2,778.9 594.6,781.5 601.2,785.3 607.1,823.3 613.3,815.5 619.9,815.5 626.0,827.6 632.2,835.2 638.8,830.7 645.2,823.1 651.1,825.9 657.7,832.6 664.1,837.8 670.0,847.0 676.8,843.4 682.7,824.5 689.1,831.4 695.5,820.0 701.6,810.8 708.7,805.9 714.9,817.4 721.0,808.7 727.2,806.3 727.8,806.3 734.2,812.7 740.6,832.3 746.9,849.3 753.1,832.8 759.0,834.7 765.8,841.1 772.0,834.5 778.4,845.3 784.5,846.7 790.7,846.7 796.8,849.6 803.9,860.4 809.8,852.9 815.9,848.2 822.8,847.9 828.9,825.7 835.3,818.6 841.5,819.6 848.1,819.3 854.9,822.4 860.8,816.0 867.2,819.8 873.8,820.7 880.0,817.0 885.9,810.1 892.7,792.6 898.9,791.7 905.0,790.0 911.9,795.2 918.0,791.7 923.9,787.2 930.8,795.2 936.9,788.8 943.1,782.9" fill="none" stroke="#1e40af" stroke-width="1.2" stroke-linejoin="round" stroke-linecap="butt" />
</g>
<g shape-rendering="crispEdges" fill="#ebedf3">
<rect x="0" y="26" width="1049" height="2"/>
<rect x="1047" y="26" width="2" height="879"/>
<rect x="0" y="903" width="1049" height="2"/>
<rect x="0" y="694" width="1047" height="1" fill="#e0e3eb"/>
</g>
<text x="992.7" y="67" font-size="12" fill="#131722" font-weight="normal" text-anchor="start" textLength="41.2" lengthAdjust="spacingAndGlyphs">108.500</text>
<text x="992.7" y="97" font-size="12" fill="#131722" font-weight="normal" text-anchor="start" textLength="41.2" lengthAdjust="spacingAndGlyphs">108.000</text>
<text x="992.7" y="128" font-size="12" fill="#131722" font-weight="normal" text-anchor="start" textLength="41.2" lengthAdjust="spacingAndGlyphs">107.500</text>
<text x="992.7" y="158" font-size="12" fill="#131722" font-weight="normal" text-anchor="start" textLength="41.2" lengthAdjust="spacingAndGlyphs">107.000</text>
<text x="992.7" y="189" font-size="12" fill="#131722" font-weight="normal" text-anchor="start" textLength="41.2" lengthAdjust="spacingAndGlyphs">106.500</text>
<text x="992.7" y="220" font-size="12" fill="#131722" font-weight="normal" text-anchor="start" textLength="41.2" lengthAdjust="spacingAndGlyphs">106.000</text>
<text x="992.7" y="282" font-size="12" fill="#131722" font-weight="normal" text-anchor="start" textLength="41.2" lengthAdjust="spacingAndGlyphs">105.000</text>
<text x="992.7" y="344" font-size="12" fill="#131722" font-weight="normal" text-anchor="start" textLength="41.2" lengthAdjust="spacingAndGlyphs">104.000</text>
<text x="992.7" y="556" font-size="12" fill="#131722" font-weight="normal" text-anchor="start" textLength="41.2" lengthAdjust="spacingAndGlyphs">100.700</text>
<text x="992.7" y="588" font-size="12" fill="#131722" font-weight="normal" text-anchor="start" textLength="41.2" lengthAdjust="spacingAndGlyphs">100.200</text>
<text x="992.7" y="621" font-size="12" fill="#131722" font-weight="normal" text-anchor="start" textLength="35.0" lengthAdjust="spacingAndGlyphs">99.700</text>
<text x="992.7" y="654" font-size="12" fill="#131722" font-weight="normal" text-anchor="start" textLength="35.0" lengthAdjust="spacingAndGlyphs">99.200</text>
<text x="992.7" y="687" font-size="12" fill="#131722" font-weight="normal" text-anchor="start" textLength="35.0" lengthAdjust="spacingAndGlyphs">98.700</text>
<text x="992.7" y="749" font-size="12" fill="#131722" font-weight="normal" text-anchor="start" textLength="29.0" lengthAdjust="spacingAndGlyphs">60.00</text>
<text x="992.7" y="822" font-size="12" fill="#131722" font-weight="normal" text-anchor="start" textLength="29.0" lengthAdjust="spacingAndGlyphs">47.78</text>
<text x="992.7" y="850" font-size="12" fill="#131722" font-weight="normal" text-anchor="start" textLength="29.0" lengthAdjust="spacingAndGlyphs">40.00</text>
<text x="992.7" y="865" font-size="12" fill="#131722" font-weight="normal" text-anchor="start" textLength="29.0" lengthAdjust="spacingAndGlyphs">36.99</text>
<rect x="986" y="29" width="60" height="31.5" fill="#fff"/>
<rect x="988.8" y="31" width="55" height="25.5" rx="4" fill="#fff" stroke="#ebedf3" stroke-width="1.7"/>
<text x="997" y="49" font-size="12" fill="#131722" font-weight="normal" text-anchor="start" textLength="20.5" lengthAdjust="spacingAndGlyphs">USD</text>
<path d="M984 101h54a2 2 0 0 1 2 2v13a2 2 0 0 1 -2 2h-54z" fill="#000"/>
<text x="992.7" y="114" font-size="12" fill="#fff" font-weight="bold" text-anchor="start" textLength="41" lengthAdjust="spacingAndGlyphs">107.726</text>
<rect x="937" y="124" width="46" height="17" rx="2" fill="#e3effd"/>
<path d="M984 124h54a2 2 0 0 1 2 2v13a2 2 0 0 1 -2 2h-54z" fill="#e3effd"/>
<text x="941.7" y="137" font-size="12" fill="#131722" font-weight="normal" text-anchor="start" textLength="36.3" lengthAdjust="spacingAndGlyphs">Yüksek</text>
<text x="992.7" y="137" font-size="12" fill="#131722" font-weight="normal" text-anchor="start" textLength="41" lengthAdjust="spacingAndGlyphs">107.348</text>
<path d="M984 188h54a2 2 0 0 1 2 2v13a2 2 0 0 1 -2 2h-54z" fill="#000"/>
<text x="992.7" y="201" font-size="12" fill="#fff" font-weight="bold" text-anchor="start" textLength="41" lengthAdjust="spacingAndGlyphs">106.300</text>
<path d="M984 235h54a2 2 0 0 1 2 2v13a2 2 0 0 1 -2 2h-54z" fill="#000"/>
<text x="992.7" y="248" font-size="12" fill="#fff" font-weight="bold" text-anchor="start" textLength="41" lengthAdjust="spacingAndGlyphs">105.546</text>
<path d="M984 301h54a2 2 0 0 1 2 2v13a2 2 0 0 1 -2 2h-54z" fill="#9598a1"/>
<text x="992.7" y="314" font-size="12" fill="#131722" font-weight="normal" text-anchor="start" textLength="41" lengthAdjust="spacingAndGlyphs">104.322</text>
<path d="M984 318h54a2 2 0 0 1 2 2v13a2 2 0 0 1 -2 2h-54z" fill="#000"/>
<text x="992.7" y="331" font-size="12" fill="#fff" font-weight="bold" text-anchor="start" textLength="41" lengthAdjust="spacingAndGlyphs">104.214</text>
<path d="M984 351h58a2 2 0 0 1 2 2v27a2 2 0 0 1 -2 2h-58z" fill="#388e3c"/>
<text x="992.7" y="364" font-size="12" fill="#fff" font-weight="bold" text-anchor="start" textLength="41" lengthAdjust="spacingAndGlyphs">103.693</text>
<text x="992.7" y="378" font-size="12" fill="#c8e6c9" font-weight="bold" text-anchor="start" textLength="46" lengthAdjust="spacingAndGlyphs">16:30:28</text>
<path d="M984 382h54a2 2 0 0 1 2 2v13a2 2 0 0 1 -2 2h-54z" fill="#000"/>
<text x="992.7" y="395" font-size="12" fill="#fff" font-weight="bold" text-anchor="start" textLength="41" lengthAdjust="spacingAndGlyphs">103.600</text>
<path d="M984 399h54a2 2 0 0 1 2 2v13a2 2 0 0 1 -2 2h-54z" fill="#000"/>
<text x="992.7" y="412" font-size="12" fill="#fff" font-weight="bold" text-anchor="start" textLength="41" lengthAdjust="spacingAndGlyphs">103.500</text>
<path d="M984 416h54a2 2 0 0 1 2 2v13a2 2 0 0 1 -2 2h-54z" fill="#4caf50"/>
<text x="992.7" y="429" font-size="12" fill="#fff" font-weight="bold" text-anchor="start" textLength="41" lengthAdjust="spacingAndGlyphs">103.463</text>
<path d="M984 433h54a2 2 0 0 1 2 2v13a2 2 0 0 1 -2 2h-54z" fill="#ff9800"/>
<text x="992.7" y="446" font-size="12" fill="#131722" font-weight="normal" text-anchor="start" textLength="41" lengthAdjust="spacingAndGlyphs">102.836</text>
<path d="M984 450h54a2 2 0 0 1 2 2v13a2 2 0 0 1 -2 2h-54z" fill="#b22833"/>
<text x="992.7" y="463" font-size="12" fill="#fff" font-weight="bold" text-anchor="start" textLength="41" lengthAdjust="spacingAndGlyphs">102.671</text>
<path d="M984 467h54a2 2 0 0 1 2 2v13a2 2 0 0 1 -2 2h-54z" fill="#000"/>
<text x="992.7" y="480" font-size="12" fill="#fff" font-weight="bold" text-anchor="start" textLength="41" lengthAdjust="spacingAndGlyphs">102.658</text>
<path d="M984 484h54a2 2 0 0 1 2 2v13a2 2 0 0 1 -2 2h-54z" fill="#000"/>
<text x="992.7" y="497" font-size="12" fill="#fff" font-weight="bold" text-anchor="start" textLength="41" lengthAdjust="spacingAndGlyphs">102.500</text>
<path d="M984 501h54a2 2 0 0 1 2 2v13a2 2 0 0 1 -2 2h-54z" fill="#000"/>
<text x="992.7" y="514" font-size="12" fill="#fff" font-weight="bold" text-anchor="start" textLength="41" lengthAdjust="spacingAndGlyphs">101.923</text>
<path d="M984 518h54a2 2 0 0 1 2 2v13a2 2 0 0 1 -2 2h-54z" fill="#000"/>
<text x="992.7" y="531" font-size="12" fill="#fff" font-weight="bold" text-anchor="start" textLength="41" lengthAdjust="spacingAndGlyphs">101.503</text>
<path d="M984 617h47a2 2 0 0 1 2 2v13a2 2 0 0 1 -2 2h-47z" fill="#000"/>
<text x="992.7" y="630" font-size="12" fill="#fff" font-weight="bold" text-anchor="start" textLength="35" lengthAdjust="spacingAndGlyphs">99.579</text>
<rect x="942" y="634" width="41" height="17" rx="2" fill="#e3effd"/>
<path d="M984 634h47a2 2 0 0 1 2 2v13a2 2 0 0 1 -2 2h-47z" fill="#e3effd"/>
<text x="946.4" y="647" font-size="12" fill="#131722" font-weight="normal" text-anchor="start" textLength="31.5" lengthAdjust="spacingAndGlyphs">Düşük</text>
<text x="992.7" y="647" font-size="12" fill="#131722" font-weight="normal" text-anchor="start" textLength="35" lengthAdjust="spacingAndGlyphs">99.578</text>
<path d="M984 775h41a2 2 0 0 1 2 2v13a2 2 0 0 1 -2 2h-41z" fill="#1c3ba5"/>
<text x="992.7" y="788" font-size="12" fill="#fff" font-weight="bold" text-anchor="start" textLength="29" lengthAdjust="spacingAndGlyphs">52.39</text>
<path d="M984 792h41a2 2 0 0 1 2 2v13a2 2 0 0 1 -2 2h-41z" fill="#9598a1"/>
<text x="992.7" y="805" font-size="12" fill="#131722" font-weight="normal" text-anchor="start" textLength="29" lengthAdjust="spacingAndGlyphs">48.98</text>
<text x="-15.0" y="894" font-size="12" fill="#131722" font-weight="normal" text-anchor="start" textLength="24" lengthAdjust="spacingAndGlyphs">Tem</text>
<text x="120.8" y="894" font-size="12" fill="#131722" font-weight="normal" text-anchor="start" textLength="20" lengthAdjust="spacingAndGlyphs">Ağu</text>
<text x="269.0" y="894" font-size="12" fill="#131722" font-weight="normal" text-anchor="start" textLength="15" lengthAdjust="spacingAndGlyphs">Eyl</text>
<text x="402.3" y="894" font-size="12" fill="#131722" font-weight="normal" text-anchor="start" textLength="16" lengthAdjust="spacingAndGlyphs">Eki</text>
<text x="541.0" y="894" font-size="12" fill="#131722" font-weight="normal" text-anchor="start" textLength="18" lengthAdjust="spacingAndGlyphs">Kas</text>
<text x="680.9" y="894" font-size="12" fill="#131722" font-weight="normal" text-anchor="start" textLength="17.5" lengthAdjust="spacingAndGlyphs">Ara</text>
<text x="810.0" y="894" font-size="12" fill="#131722" font-weight="bold" text-anchor="start" textLength="26.5" lengthAdjust="spacingAndGlyphs">2024</text>
<text x="960.5" y="894" font-size="12" fill="#131722" font-weight="normal" text-anchor="start" textLength="17.5" lengthAdjust="spacingAndGlyphs">Şub</text>
</svg>
</body></html>
